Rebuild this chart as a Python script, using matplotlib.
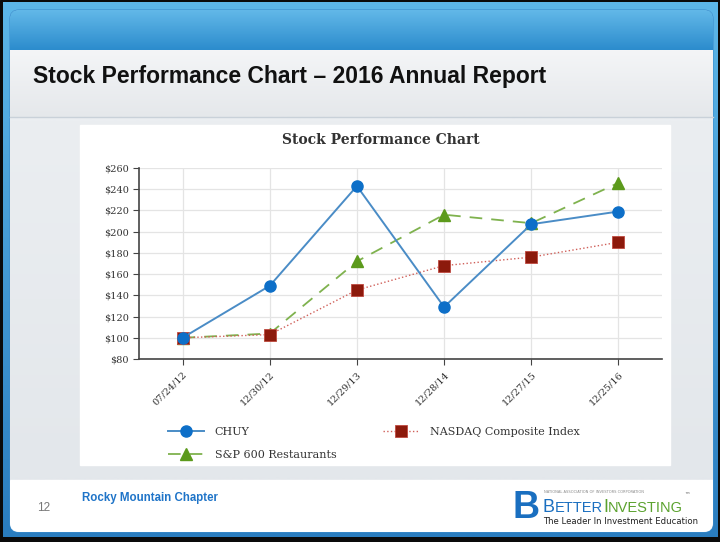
import numpy as np
import matplotlib
matplotlib.use('Agg')
import matplotlib.pyplot as plt
from matplotlib.patches import FancyBboxPatch, Rectangle

# datos
fechas = ['07/24/12', '12/30/12', '12/29/13', '12/28/14', '12/27/15', '12/25/16']
chuy = [100, 149, 243, 129, 207, 219]
nasdaq = [100, 103, 145, 168, 176, 190]
sp600 = [100, 104, 172, 216, 208, 246]
y_ticks = [80, 100, 120, 140, 160, 180, 200, 220, 240, 260]

W, H = 720, 542
fig = plt.figure(figsize=(W / 100, H / 100), dpi=100)
renderer = fig.canvas.get_renderer()

# ---- fondo de la diapositiva (coordenadas en pixeles) ----
bg = fig.add_axes([0, 0, 1, 1])
bg.set_xlim(0, W)
bg.set_ylim(H, 0)
bg.axis('off')

def gradiente(ax, x0, x1, y0, y1, c_top, c_bot, clip=None, z=0):
    c1 = np.array(matplotlib.colors.to_rgb(c_top))
    c2 = np.array(matplotlib.colors.to_rgb(c_bot))
    t = np.linspace(0, 1, 64)[:, None]
    img = (c1 * (1 - t) + c2 * t)[:, None, :]
    im = ax.imshow(img, extent=(x0, x1, y1, y0), aspect='auto', zorder=z, interpolation='bilinear')
    if clip is not None:
        im.set_clip_path(clip)
    return im

bg.add_patch(Rectangle((0, 0), W, H, color='#0a0a0a', zorder=0))
gradiente(bg, 3, 718, 2, 537, '#5cb6e8', '#2a7dbf', z=1)

slide = FancyBboxPatch((10, 10), 703, 522, boxstyle='round,pad=0,rounding_size=9',
                       fc='white', ec='#3c8ccc', lw=0.8, zorder=2)
bg.add_patch(slide)
gradiente(bg, 10, 713, 10, 50, '#62b8e8', '#2c8ccd', clip=slide, z=3)
gradiente(bg, 10, 713, 50, 117, '#f4f5f7', '#e5e8eb', clip=slide, z=3)
bg.plot([10, 713], [117, 117], color='#c9d1d9', lw=1, zorder=4)
gradiente(bg, 10, 713, 118, 480, '#ebeef1', '#e3e7eb', clip=slide, z=3)
bg.add_patch(Rectangle((10, 480), 703, 52, color='white', zorder=3, clip_path=slide))
bg.add_patch(Rectangle((80, 125), 590, 340, color='white', zorder=4))

bg.text(33, 77, 'Stock Performance Chart \u2013 2016 Annual Report', fontsize=16.5,
        fontweight='bold', family='Liberation Sans', color='#111111', va='center', ha='left', zorder=5)

# pie de pagina
bg.text(37, 508, '12', fontsize=8.5, color='#777777', family='Liberation Sans', va='center', zorder=5)
bg.text(82, 498, 'Rocky Mountain Chapter', fontsize=8.3, fontweight='bold', color='#1f74c8',
        family='Liberation Sans', va='center', zorder=5)

# logo
bg.text(526, 508, 'B', fontsize=27, fontweight='bold', color='#1a6fc0', family='Liberation Sans',
        ha='center', va='center', zorder=5)
bg.text(544, 492, 'NATIONAL ASSOCIATION OF INVESTORS CORPORATION', fontsize=2.6, color='#8a8a8a',
        va='center', zorder=5)
xpos = 543
for s, size, col in [('B', 13, '#1a6fc0'), ('ETTER', 10.5, '#1a6fc0'),
                     ('I', 13, '#5ba22e'), ('NVESTING', 10.5, '#5ba22e')]:
    t = bg.text(xpos, 511.5, s, fontsize=size, color=col, va='baseline', zorder=5,
                family='Liberation Sans')
    xpos += t.get_window_extent(renderer).width
bg.text(xpos + 1, 496, '\u2122', fontsize=4, color='#555555', va='center', zorder=5)
bg.text(543, 522, 'The Leader In Investment Education', fontsize=6.1, color='#222222',
        va='center', zorder=5)

# ---- grafico ----
serif = ['DejaVu Serif']
ax = fig.add_axes([139 / W, 1 - 359 / H, (662 - 139) / W, (359 - 168) / H], zorder=10)
ax.patch.set_alpha(0)
x = np.arange(len(fechas))

ax.plot(x, sp600, color='#7fb24e', lw=1.3, ls=(0, (7, 5)), marker='^', ms=8,
        mfc='#5c9a1c', mec='#5c9a1c', label='S&P 600 Restaurants', zorder=3)
ax.plot(x, nasdaq, color='#d0605a', lw=1.0, ls=':', marker='s', ms=8,
        mfc='#8c1a0c', mec='#c04a40', mew=0.6, label='NASDAQ Composite Index', zorder=4)
ax.plot(x, chuy, color='#4a8cc6', lw=1.4, marker='o', ms=8,
        mfc='#0d6fc8', mec='#0d6fc8', label='CHUY', zorder=5)

ax.set_xlim(-0.5, 5.5)
ax.set_ylim(80, 260)
ax.set_yticks(y_ticks)
ax.set_yticklabels(['$%d' % v for v in y_ticks])
ax.set_xticks(x)
ax.set_xticklabels(fechas, rotation=45, ha='right', rotation_mode='anchor')
ax.grid(True, color='#e4e4e4', lw=0.9)
ax.set_axisbelow(True)
for s in ['top', 'right']:
    ax.spines[s].set_visible(False)
for s in ['left', 'bottom']:
    ax.spines[s].set_color('#444444')
    ax.spines[s].set_linewidth(1.2)
ax.tick_params(axis='both', colors='#444444', labelcolor='#333333', labelsize=7,
               length=4, width=0.8)
for lab in ax.get_xticklabels() + ax.get_yticklabels():
    lab.set_family(serif)

fig.text(381 / W, 1 - 140 / H, 'Stock Performance Chart', ha='center', va='center',
         fontsize=10, fontweight='bold', family=serif, color='#333333')

h, l = ax.get_legend_handles_labels()
orden = [2, 0, 1]
leg = fig.legend([h[i] for i in orden], [l[i] for i in orden], loc='upper left',
                 bbox_to_anchor=(158 / W, 1 - 417 / H), ncol=2, frameon=False,
                 prop={'family': serif, 'size': 8},
                 handlelength=3.2, columnspacing=4.2, labelspacing=1.2, handletextpad=1.0)
for t in leg.get_texts():
    t.set_color('#333333')

fig.savefig('out.png', dpi=100)
